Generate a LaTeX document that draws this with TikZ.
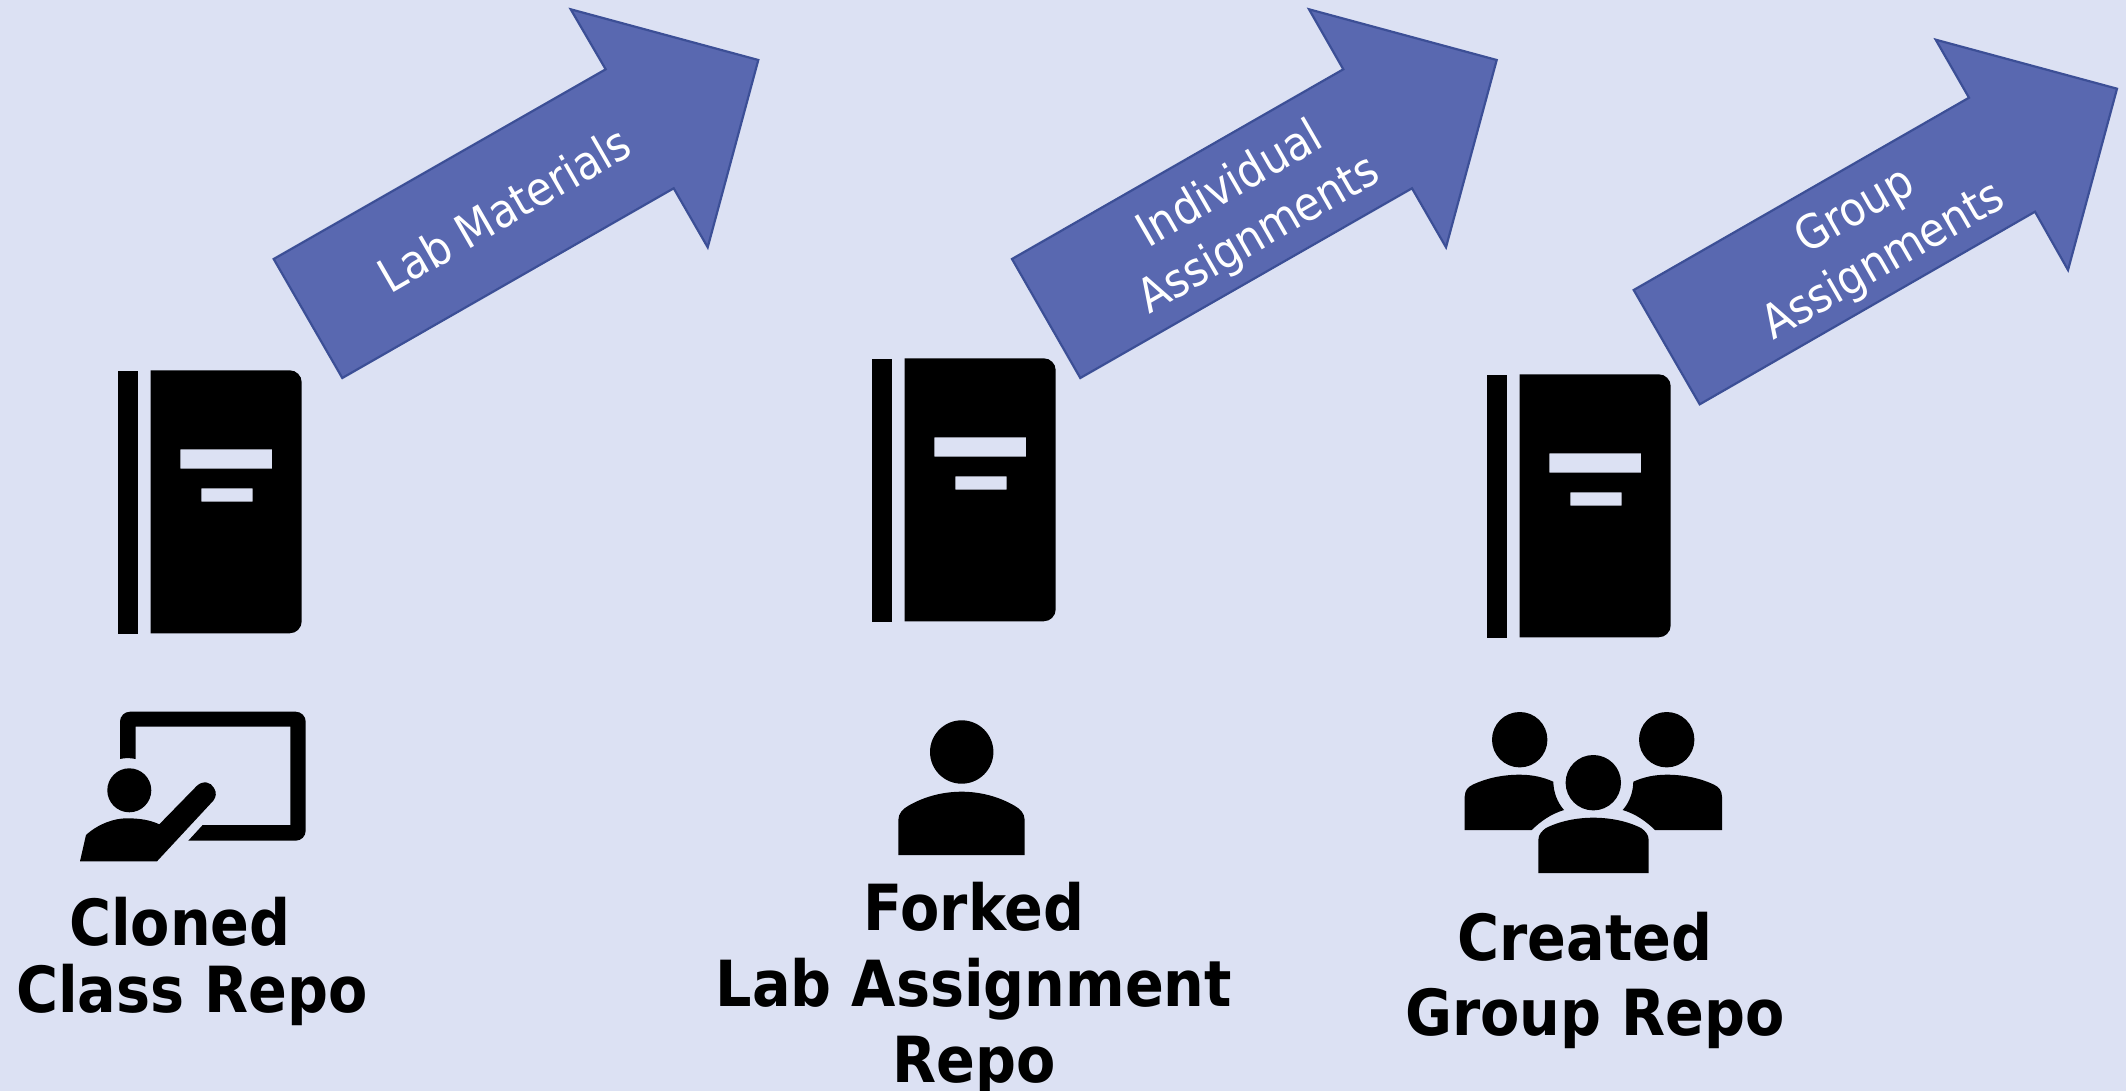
\documentclass[tikz,border=0pt]{standalone}
\usepackage{fontspec}
\setmainfont{DejaVu Sans Condensed}
\definecolor{bgc}{HTML}{DCE1F3}
\definecolor{arrfill}{HTML}{5968B0}
\definecolor{arrline}{HTML}{3C4F96}
\tikzset{
  x=0.5pt,y=-0.5pt,
  bigarrow/.style={fill=arrfill,draw=arrline,line width=1.1pt,line join=miter},
  arrowtext/.style={text=white,rotate=30,align=center,inner sep=0pt,font=\fontsize{23.4}{29}\selectfont},
  replabel/.style={text=black,align=center,inner sep=0pt,anchor=north,font=\fontsize{31.8}{#1}\selectfont\bfseries},
  replabel/.default={33.5},
  icon/.style={fill=black},
  pics/bookicon/.style={code={
    \fill[icon] (118,370.7) rectangle (138,633.7);
    \fill[icon,even odd rule] (150.7,370.3) [rounded corners=6pt] -- (301.7,370.3) -- (301.7,633.3) [sharp corners] -- (150.7,633.3) -- cycle
      (180.3,449.3) rectangle (272,468.7)
      (201.3,488.3) rectangle (252.7,501.7);
  }}
}
\begin{document}
\begin{tikzpicture}
\useasboundingbox (0,0) rectangle (2126,1091);
\fill[bgc] (0,0) rectangle (2126,1091);

% arrows
\draw[bigarrow] (273.7,259) -- (605.7,69.3) -- (570.7,9.3) -- (758.3,60) -- (707.7,247.3) -- (673.7,188.3) -- (342.3,378) -- cycle;
\draw[bigarrow] (1012,259) -- (1343.3,69.3) -- (1309,9.3) -- (1496.7,60) -- (1446,247.3) -- (1412,188.3) -- (1080.3,378) -- cycle;
\draw[bigarrow] (1633.7,290) -- (1969,97.7) -- (1935.7,39.7) -- (2117,88.7) -- (2068,270) -- (2035,211.7) -- (1699.7,404.3) -- cycle;
\node[arrowtext] (labmat) at (504,209) {Lab Materials};
\node[arrowtext] (indiv) at (1245,211) {Individual\\Assignments};
\node[arrowtext] (groupa) at (1870,237) {Group\\Assignments};

% books
\pic (book1) at (0,0) {bookicon};
\pic (book2) at (754,-12) {bookicon};
\pic (book3) at (1369,4) {bookicon};

% teacher
\fill[icon] (120,759) [rounded corners=5pt] -- (120,711.7) -- (305.7,711.7) -- (305.7,840.7) [sharp corners] -- (188.3,840.7) -- (202.7,825) -- (290.3,825) -- (290.3,726.7) -- (135.7,726.7) -- (135.7,759) .. controls (130,757.8) and (125,757.8) .. (120,759) -- cycle;
\fill[icon] (129.3,790.3) circle[radius=11pt];
\fill[icon] (80,861.3) -- (86,835) .. controls (98,824) and (114,818.3) .. (126.7,818.3) .. controls (140,818.3) and (150,820) .. (159.3,824.3) -- (196.7,786) .. controls (203,780) and (211,782) .. (214,788) .. controls (217,793) and (216,797) .. (213.3,800.7) -- (157,861.3) -- cycle;

% single person
\fill[icon] (961.7,752) circle[radius=15.85pt];
\fill[icon] (898.3,855) -- (898.3,820) .. controls (898.5,813) and (903,809) .. (908,806) .. controls (925,796) and (944,791.7) .. (961.7,791.7) .. controls (979,791.7) and (998,796) .. (1015,806) .. controls (1020,809) and (1024.5,813) .. (1024.7,820) -- (1024.7,855) -- cycle;

% group
\fill[icon] (1519.7,739.7) circle[radius=13.85pt];
\fill[icon] (1666.7,739.7) circle[radius=13.85pt];
\fill[icon] (1593.3,782.7) circle[radius=13.85pt];
\fill[icon] (1538.3,873) -- (1538.3,840) .. controls (1538.5,834) and (1542,831) .. (1546,828) .. controls (1560,821) and (1577,817.7) .. (1593.3,817.7) .. controls (1610,817.7) and (1627,821) .. (1641,828) .. controls (1645,831) and (1648.5,834) .. (1648.7,840) -- (1648.7,873) -- cycle;
\fill[icon] (1464.7,830) -- (1464.7,796.7) .. controls (1464.9,790) and (1468,787) .. (1473,784.5) .. controls (1487,778) and (1503,774.7) .. (1519.7,774.7) .. controls (1532,774.7) and (1543,777) .. (1553.3,781.7) .. controls (1553.5,792) and (1557,802) .. (1564,810) .. controls (1551,814) and (1541,821) .. (1531.7,830) -- cycle;
\fill[icon] (1722,830) -- (1722,796.7) .. controls (1721.8,790) and (1718.7,787) .. (1713.7,784.5) .. controls (1699.7,778) and (1683.7,774.7) .. (1666.7,774.7) .. controls (1654.7,774.7) and (1643.7,777) .. (1633.3,781.7) .. controls (1633.1,792) and (1629.7,802) .. (1622.7,810) .. controls (1635.7,814) and (1645.7,821) .. (1655,830) -- cycle;

% labels
\node[replabel] (cloned) at (192,896.5) {Cloned\hspace*{12pt}\\Class Repo};
\node[replabel=38] (forked) at (974,881.5) {Forked\\Lab Assignment\\Repo};
\node[replabel=37.5] (created) at (1595,911.5) {Created\hspace*{10pt}\\Group Repo};
\end{tikzpicture}
\end{document}
